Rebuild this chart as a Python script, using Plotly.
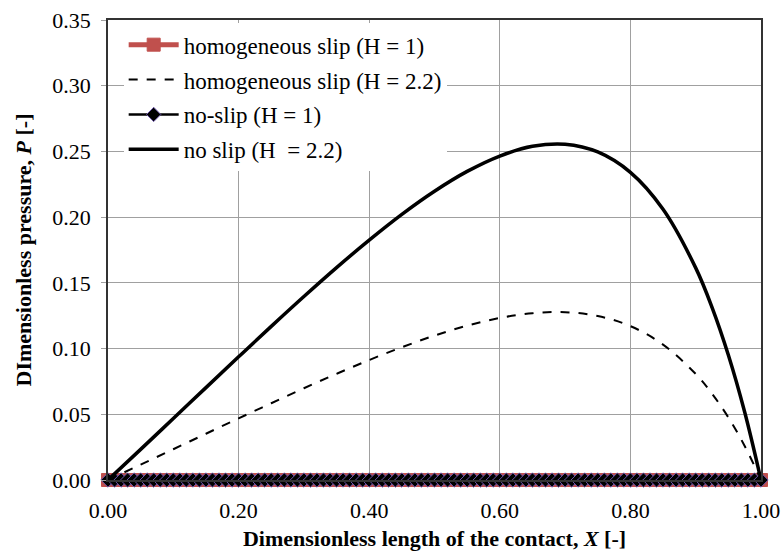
import plotly.graph_objects as go

# Fine grid used by the H = 1 series (101 points, all at zero pressure)
X_fine = [0.00, 0.01, 0.02, 0.03, 0.04, 0.05, 0.06, 0.07, 0.08, 0.09,
          0.10, 0.11, 0.12, 0.13, 0.14, 0.15, 0.16, 0.17, 0.18, 0.19,
          0.20, 0.21, 0.22, 0.23, 0.24, 0.25, 0.26, 0.27, 0.28, 0.29,
          0.30, 0.31, 0.32, 0.33, 0.34, 0.35, 0.36, 0.37, 0.38, 0.39,
          0.40, 0.41, 0.42, 0.43, 0.44, 0.45, 0.46, 0.47, 0.48, 0.49,
          0.50, 0.51, 0.52, 0.53, 0.54, 0.55, 0.56, 0.57, 0.58, 0.59,
          0.60, 0.61, 0.62, 0.63, 0.64, 0.65, 0.66, 0.67, 0.68, 0.69,
          0.70, 0.71, 0.72, 0.73, 0.74, 0.75, 0.76, 0.77, 0.78, 0.79,
          0.80, 0.81, 0.82, 0.83, 0.84, 0.85, 0.86, 0.87, 0.88, 0.89,
          0.90, 0.91, 0.92, 0.93, 0.94, 0.95, 0.96, 0.97, 0.98, 0.99,
          1.00]
P_homog_H1 = [0.0] * len(X_fine)
P_noslip_H1 = [0.0] * len(X_fine)

# Curves for H = 2.2
X_curve = [0.00, 0.05, 0.10, 0.15, 0.20, 0.25, 0.30, 0.35, 0.40, 0.45,
           0.50, 0.55, 0.60, 0.65, 0.70, 0.75, 0.80, 0.85, 0.90, 0.925,
           0.95, 0.975, 1.00]
P_noslip_H22 = [0.0, 0.0233, 0.0468, 0.0703, 0.0937, 0.1169, 0.1396, 0.1616,
                0.1825, 0.2021, 0.2197, 0.2348, 0.2465, 0.2539, 0.2555, 0.2496,
                0.2341, 0.2060, 0.1614, 0.1314, 0.0951, 0.0517, 0.0]
P_homog_H22 = [0.0, 0.0117, 0.0234, 0.0352, 0.0469, 0.0584, 0.0698, 0.0808,
               0.0913, 0.1010, 0.1099, 0.1174, 0.1233, 0.1269, 0.1277, 0.1248,
               0.1171, 0.1030, 0.0807, 0.0657, 0.0476, 0.0259, 0.0]

x_ticks = [0.0, 0.2, 0.4, 0.6, 0.8, 1.0]
y_ticks = [0.0, 0.05, 0.10, 0.15, 0.20, 0.25, 0.30, 0.35]

FONT = "Liberation Serif, Times New Roman, serif"
FS = 22
LFS = 23

fig = go.Figure()
fig.add_trace(go.Scatter(
    x=X_fine, y=P_homog_H1, mode="lines+markers", cliponaxis=False,
    name="homogeneous slip (H = 1)", legendgroup="a",
    line=dict(color="#C0504D", width=5),
    marker=dict(symbol="square", size=13, color="#C0504D",
                line=dict(color="#C0504D", width=1)),
))
fig.add_trace(go.Scatter(
    x=X_curve, y=P_homog_H22, mode="lines",
    name="homogeneous slip (H = 2.2)", legendgroup="b",
    line=dict(color="black", width=2, dash="dash", shape="spline"),
))
fig.add_trace(go.Scatter(
    x=X_fine, y=P_noslip_H1, mode="lines+markers", cliponaxis=False,
    name="no-slip (H = 1)", legendgroup="c",
    line=dict(color="black", width=2.5),
    marker=dict(symbol="diamond", size=11, color="black",
                line=dict(color="#6B55A8", width=1)),
))
fig.add_trace(go.Scatter(
    x=X_curve, y=P_noslip_H22, mode="lines",
    name="no slip (H  = 2.2)", legendgroup="d",
    line=dict(color="black", width=3.5, shape="spline"),
))

fig.update_layout(
    width=784, height=556,
    margin=dict(l=108, r=23, t=20, b=76, autoexpand=False),
    paper_bgcolor="white", plot_bgcolor="white",
    font=dict(family=FONT, size=FS, color="black"),
    showlegend=True,
    legend=dict(x=0.024, y=0.993, xanchor="left", yanchor="top",
                bgcolor="white", borderwidth=0, itemwidth=50,
                font=dict(family=FONT, size=LFS, color="black"),
                traceorder="grouped", tracegroupgap=2),
    xaxis=dict(range=[0, 1.0], tickvals=x_ticks, tickformat=".2f",
               showgrid=True, gridcolor="#A0A0A0", gridwidth=1,
               showline=True, linecolor="#333333", linewidth=1.5, mirror=True,
               ticks="", zeroline=False, automargin=False,
               ticklabelstandoff=10,
               tickfont=dict(family=FONT, size=FS),
               title=dict(text="<b>Dimensionless length of the contact, <i>X</i> [-]</b>",
                          font=dict(family=FONT, size=FS), standoff=8)),
    yaxis=dict(range=[0, 0.35], tickvals=y_ticks, tickformat=".2f",
               showgrid=True, gridcolor="#A0A0A0", gridwidth=1,
               showline=True, linecolor="#333333", linewidth=1.5, mirror=True,
               ticks="outside", ticklen=5, tickcolor="#A0A0A0", zeroline=False,
               automargin=False, ticklabelstandoff=6,
               tickfont=dict(family=FONT, size=FS),
               title=dict(text="<b>DImensionless pressure, <i>P</i> [-]</b>",
                          font=dict(family=FONT, size=FS), standoff=15)),
)

fig.write_html("out.html")
